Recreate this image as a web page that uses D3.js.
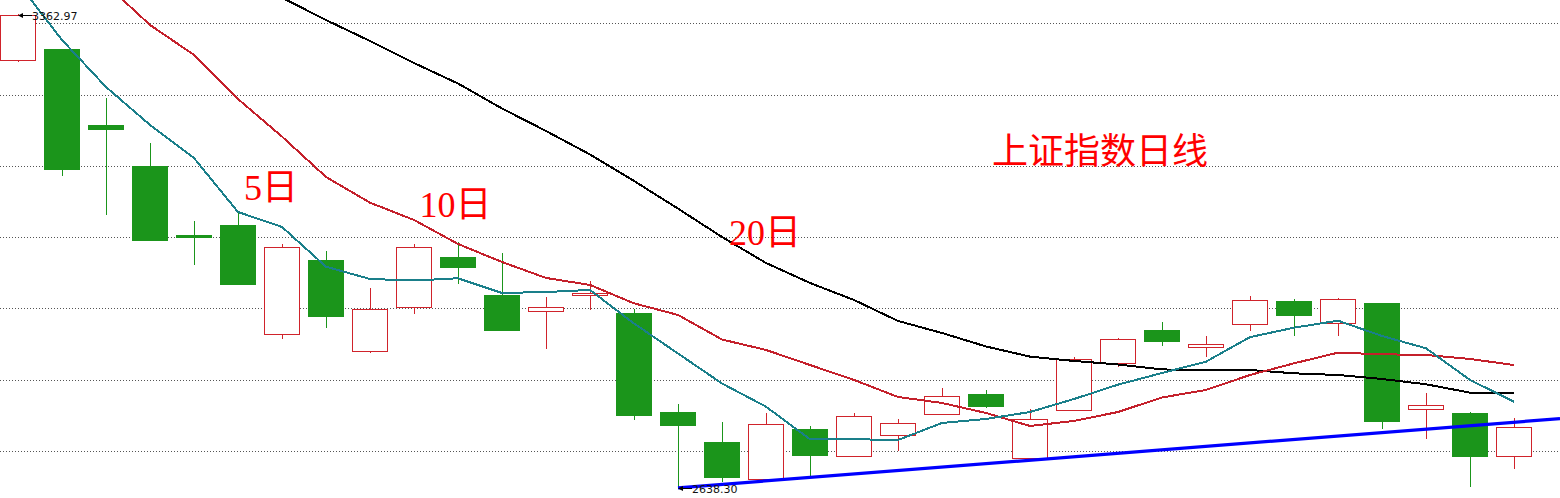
<!DOCTYPE html>
<html>
<head>
<meta charset="utf-8">
<script src="https://cdn.jsdelivr.net/npm/d3@7"></script>
<style>
  html, body { margin: 0; padding: 0; background: #ffffff; }
  svg { display: block; }
</style>
</head>
<body>
<svg id="chart" width="1560" height="498"></svg>
<script>
// Shanghai Composite daily candles, 2016-01-06 .. 2016-03-01
const dates = [
  "2016-01-06","2016-01-07","2016-01-08","2016-01-11","2016-01-12","2016-01-13","2016-01-14",
  "2016-01-15","2016-01-18","2016-01-19","2016-01-20","2016-01-21","2016-01-22","2016-01-25",
  "2016-01-26","2016-01-27","2016-01-28","2016-01-29","2016-02-01","2016-02-02","2016-02-03",
  "2016-02-04","2016-02-05","2016-02-15","2016-02-16","2016-02-17","2016-02-18","2016-02-19",
  "2016-02-22","2016-02-23","2016-02-24","2016-02-25","2016-02-26","2016-02-29","2016-03-01"
];
const opens  = [3292.4,3309.7,3193.4,3130.7,3025.6,3040.5,2873.7,2986.9,2847.2,2914.5,2991.5,2933.4,2909.3,2932.9,
                2905.8,2754.3,2708.4,2651.4,2728.3,2686.6,2718.7,2750.8,2781.9,2683.5,2756.9,2828.8,2879.8,2854.3,
                2888.5,2924.2,2890.0,2921.1,2758.5,2752.8,2686.6];
const highs  = [3362.97,3309.7,3234.8,3165.9,3046.6,3058.3,3010.9,3000.7,2943.6,3010.9,3014.4,2997.6,2930.3,2954.3,
                2911.5,2766.6,2739.0,2752.8,2732.9,2752.8,2743.6,2791.1,2788.0,2758.4,2838.5,2867.6,2892.0,2870.6,
                2931.8,2927.2,2928.8,2921.1,2783.4,2754.3,2745.2];
const lows   = [3289.4,3115.9,3056.2,3016.4,2979.2,2949.1,2866.5,2883.3,2844.2,2904.7,2950.6,2878.7,2851.2,2910.4,
                2742.6,2638.30,2646.8,2651.4,2655.4,2686.6,2694.7,2750.8,2760.9,2683.5,2756.9,2823.6,2855.3,2838.5,
                2878.7,2871.1,2871.1,2728.8,2713.5,2638.96,2667.6];
const closes = [3361.8,3125.1,3186.3,3016.4,3022.1,2949.1,3006.3,2900.2,2911.5,3006.3,2975.1,2878.7,2914.5,2936.9,
                2748.7,2733.4,2653.8,2735.5,2687.5,2748.2,2737.1,2778.4,2762.4,2743.2,2834.9,2865.6,2861.4,2857.9,
                2925.2,2901.7,2926.8,2739.5,2764.6,2685.9,2730.9];

// moving averages (5, 10, 20 day) as plotted on each session
const ma5  = [3410.7,3323.5,3251.6,3193.5,3142.9,3060.3,3037.4,2976.6,2957.8,2955.5,2958.9,2936.4,2937.9,2941.0,
              2889.7,2843.8,2797.9,2762.4,2712.6,2712.6,2711.5,2737.5,2743.6,2754.3,2774.2,2796.1,2814.0,2831.3,
              2868.9,2883.3,2894.0,2870.6,2851.8,2803.3,2770.1];
const ma10 = [null,null,3408.7,3346.5,3300.6,3233.2,3175.7,3113.9,3074.6,3048.1,3011.4,2983.8,2959.4,2948.7,
              2920.6,2902.8,2865.2,2849.2,2826.2,2803.3,2777.3,2768.1,2752.8,2732.9,2740.6,2754.3,2776.5,2788.0,
              2810.9,2828.8,2845.1,2842.6,2841.6,2835.4,2826.2];
const ma20 = [null,null,null,null,null,null,3388.2,3354.1,3322.0,3288.3,3256.9,3218.7,3184.3,3148.3,
              3107.8,3065.5,3022.1,2982.3,2951.7,2925.7,2893.6,2875.2,2854.6,2839.0,2832.4,2827.0,2819.4,2818.6,
              2818.6,2813.5,2810.9,2804.8,2796.7,2783.9,2783.9];

// horizontal price grid levels
const gridLevels = [3349.1, 3240.0, 3130.9, 3021.8, 2912.7, 2803.6, 2694.5];

// support line anchored on two sessions
const trendIndex  = [15, 34];
const trendValues = [2638.30, 2738.6];

// marked extremes of the visible range
const extremeIndex  = [0, 15];
const extremeValues = [3362.97, 2638.30];
const extremeLabels = ["3362.97", "2638.30"];

// annotations
const maLabels    = ["5日", "10日", "20日"];
const titleText   = "上证指数日线";

const W = 1560, H = 498;
const UP = "#d0232b", DOWN = "#1b951b";
const MA_COLORS = ["#1a7f8a", "#c4202b", "#000000"];

const svg = d3.select("#chart");

const x = d3.scaleBand().domain(dates).range([-4, 1536]).padding(0);
const cx = i => x(dates[i]) + x.bandwidth() / 2;
const y = d3.scaleLinear().domain([2638.30, 3362.97]).range([487.8, 14.2]);
const bodyW = 36;
const px = v => Math.round(v) + 0.5;

// dotted grid
svg.append("g").selectAll("line").data(gridLevels).join("line")
  .attr("x1", 0).attr("x2", W)
  .attr("y1", d => px(y(d))).attr("y2", d => px(y(d)))
  .attr("stroke", "#555").attr("stroke-width", 1)
  .attr("stroke-dasharray", "1,2")
  .attr("shape-rendering", "crispEdges");

// candles
const candles = dates.map((d, i) => ({i, o: opens[i], h: highs[i], l: lows[i], c: closes[i]}));
const gC = svg.append("g").attr("shape-rendering", "crispEdges");

candles.forEach(k => {
  const xc = cx(k.i);
  const left = Math.round(xc - bodyW / 2);
  if (k.c >= k.o) {
    const top = Math.round(y(k.c)), bot = Math.round(y(k.o));
    const hi = Math.round(y(k.h)), lo = Math.round(y(k.l));
    if (hi < top) gC.append("line").attr("x1", px(xc)).attr("x2", px(xc)).attr("y1", hi).attr("y2", top)
      .attr("stroke", UP).attr("stroke-width", 1);
    if (lo > bot) gC.append("line").attr("x1", px(xc)).attr("x2", px(xc)).attr("y1", bot + 1).attr("y2", lo)
      .attr("stroke", UP).attr("stroke-width", 1);
    gC.append("rect")
      .attr("x", left + 0.5).attr("y", top + 0.5)
      .attr("width", bodyW - 1).attr("height", Math.max(2, bot - top))
      .attr("fill", "#ffffff").attr("stroke", UP).attr("stroke-width", 1);
  } else {
    gC.append("line").attr("x1", px(xc)).attr("x2", px(xc))
      .attr("y1", Math.round(y(k.h))).attr("y2", Math.round(y(k.l)))
      .attr("stroke", DOWN).attr("stroke-width", 1);
    const top = Math.round(y(k.o)), bot = Math.round(y(k.c));
    gC.append("rect")
      .attr("x", left).attr("y", top)
      .attr("width", bodyW).attr("height", Math.max(3, bot - top))
      .attr("fill", DOWN);
  }
});

// moving average lines
const maLine = d3.line()
  .defined(d => d.v != null)
  .x(d => cx(d.i))
  .y(d => y(d.v));
[ma20, ma10, ma5].forEach((series, j) => {
  const color = [MA_COLORS[2], MA_COLORS[1], MA_COLORS[0]][j];
  svg.append("path")
    .datum(series.map((v, i) => ({i, v})))
    .attr("d", maLine)
    .attr("fill", "none")
    .attr("stroke", color)
    .attr("stroke-width", 2)
    .attr("shape-rendering", "crispEdges");
});

// support line, carried on to the right edge
{
  const x0 = cx(trendIndex[0]), y0 = y(trendValues[0]);
  const x1 = cx(trendIndex[1]), y1 = y(trendValues[1]);
  const slope = (y1 - y0) / (x1 - x0);
  svg.append("line")
    .attr("x1", x0).attr("y1", y0)
    .attr("x2", W).attr("y2", y0 + slope * (W - x0))
    .attr("stroke", "#0000ff").attr("stroke-width", 3.2);
}

// extreme markers: arrow + value
extremeIndex.forEach((idx, j) => {
  const tx = cx(idx), ty = y(extremeValues[j]) + (j === 0 ? 0.3 : 0.5);
  const g = svg.append("g");
  g.append("line").attr("x1", tx + 2).attr("x2", tx + 14)
    .attr("y1", Math.round(ty) + 0.5).attr("y2", Math.round(ty) + 0.5)
    .attr("stroke", "#000").attr("stroke-width", 1);
  g.append("path")
    .attr("d", `M${tx},${Math.round(ty) + 0.5} L${tx + 5},${Math.round(ty) - 2} L${tx + 5},${Math.round(ty) + 3} Z`)
    .attr("fill", "#000");
  g.append("text")
    .attr("x", tx + 14).attr("y", Math.round(ty) + 4.5)
    .attr("font-family", "'DejaVu Sans', sans-serif")
    .attr("font-size", 11)
    .attr("fill", "#111")
    .text(extremeLabels[j]);
});

// MA captions and title
const labelFont = "'Liberation Serif', 'Noto Sans CJK SC', serif";
const labelPos = [[244, 199.5], [419.5, 216.7], [729, 245]];
maLabels.forEach((t, j) => {
  svg.append("text")
    .attr("x", labelPos[j][0]).attr("y", labelPos[j][1])
    .attr("font-family", labelFont)
    .attr("font-size", 36)
    .attr("fill", "#ff0000")
    .text(t);
});
svg.append("text")
  .attr("x", 992).attr("y", 164)
  .attr("font-family", "'Noto Sans CJK SC', sans-serif")
  .attr("font-size", 36)
  .attr("fill", "#ff0000")
  .text(titleText);
</script>
</body>
</html>
